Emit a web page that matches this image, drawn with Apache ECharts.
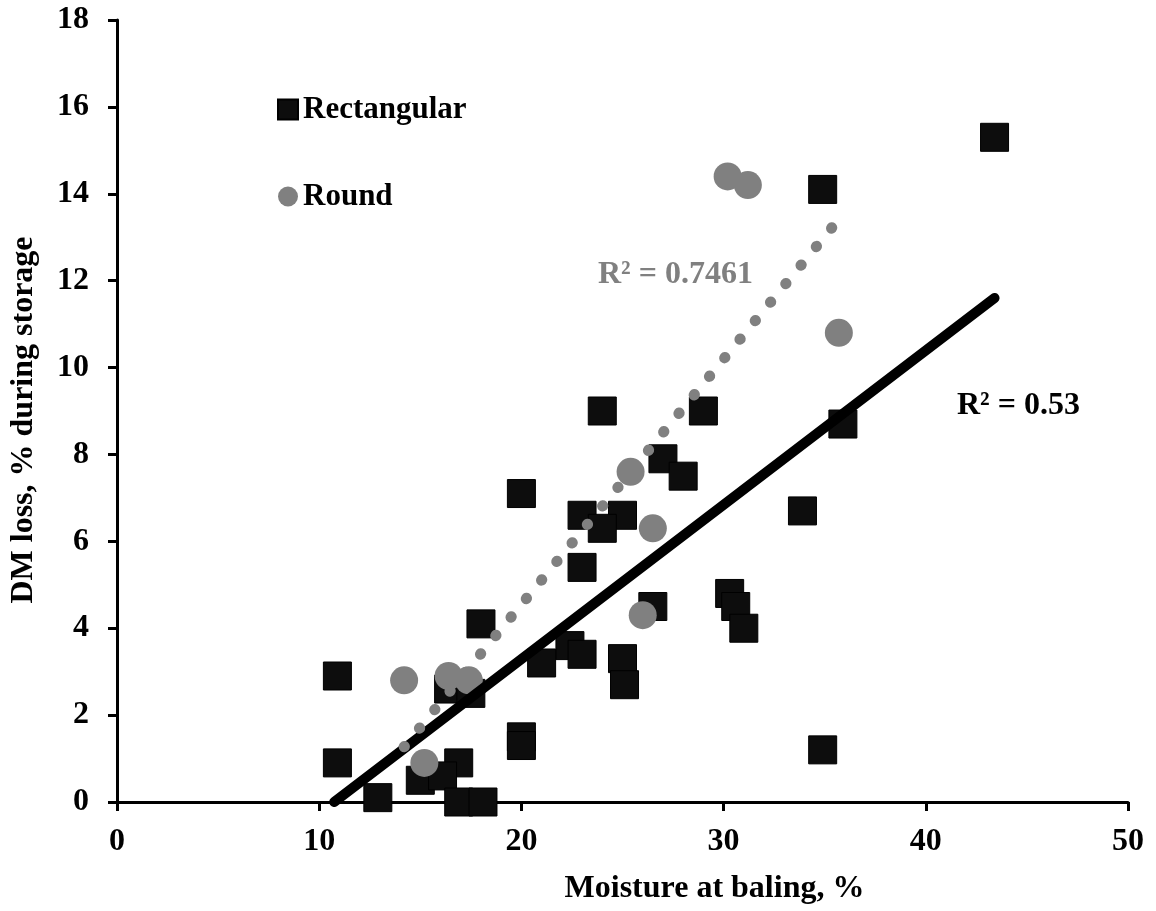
<!DOCTYPE html>
<html>
<head>
<meta charset="utf-8">
<script src="https://cdn.jsdelivr.net/npm/echarts@6/dist/echarts.min.js"></script>
<style>
  html, body { margin: 0; padding: 0; background: #fff; }
  #chart { width: 1156px; height: 911px; }
</style>
</head>
<body>
<div id="chart"></div>
<script>
// rectangular bales: [moisture %, DM loss %]
let rectangular = [
  [24, 9.0], [29, 9.0], [27, 7.9], [28, 7.5], [20, 7.1], [23, 6.6], [25, 6.6],
  [24, 6.3], [23, 5.4], [26.5, 4.5], [30.3, 4.8], [30.6, 4.5], [31, 4.0],
  [18, 4.1], [10.9, 2.9], [22.4, 3.6], [23, 3.4], [21, 3.2], [25, 3.3],
  [25.1, 2.7], [16.4, 2.6], [17.5, 2.5], [20, 1.5], [20, 1.3], [10.9, 0.9],
  [16.9, 0.9], [15, 0.5], [16.1, 0.6], [12.9, 0.1], [16.9, 0], [18.1, 0],
  [34.9, 14.1], [43.4, 15.3], [35.9, 8.7], [33.9, 6.7], [34.9, 1.2]
];
// round bales
let round = [
  [14.2, 2.8], [16.4, 2.9], [17.4, 2.8], [15.2, 0.9], [25.4, 7.6], [26.5, 6.3],
  [26.0, 4.3], [30.2, 14.4], [31.2, 14.2], [35.7, 10.8]
];
// trend line end points
let rectTrend = [[10.74, 0], [43.4, 11.6]];
let roundTrend = [[14.2, 1.27], [35.5, 13.3]];

let font = "'Liberation Serif', 'Times New Roman', serif";

var myChart = echarts.init(document.getElementById("chart"));
let option = {
    animation: false,
    grid: {
        left: 117,
        right: 28,
        top: 20,
        bottom: 109,
    },
    legend: {
        data: ["Rectangular", "Round"],
        orient: "vertical",
        left: 272,
        top: 89,
        itemWidth: 20,
        itemHeight: 20,
        itemGap: 56,
        textStyle: { fontFamily: font, fontWeight: "bold", fontSize: 31, lineHeight: 20, color: "#000" },
    },
    xAxis: {
        type: "value",
        min: 0,
        max: 50,
        interval: 10,
        name: "Moisture at baling, %",
        nameLocation: "middle",
        nameGap: 71,
        nameTextStyle: { fontFamily: font, fontWeight: "bold", fontSize: 32, color: "#000", padding: [0, 0, 0, 184] },
        axisLine: { lineStyle: { color: "#000", width: 3 } },
        axisTick: { length: 9, lineStyle: { color: "#000", width: 3 } },
        axisLabel: { fontFamily: font, fontWeight: "bold", fontSize: 32, color: "#000", margin: 24 },
        splitLine: { show: false },
    },
    yAxis: {
        type: "value",
        min: 0,
        max: 18,
        interval: 2,
        name: "DM loss, % during storage",
        nameLocation: "middle",
        nameGap: 77,
        nameTextStyle: { fontFamily: font, fontWeight: "bold", fontSize: 32, color: "#000", padding: [0, 18, 0, 0] },
        axisLine: { show: true, lineStyle: { color: "#000", width: 3 } },
        axisTick: { show: true, length: 9, lineStyle: { color: "#000", width: 3 } },
        axisLabel: { fontFamily: font, fontWeight: "bold", fontSize: 32, color: "#000", margin: 28 },
        splitLine: { show: false },
    },
    series: [{
        name: "Rectangular",
        type: "scatter",
        symbol: "rect",
        symbolSize: 28,
        data: rectangular,
        z: 2,
        itemStyle: { color: "#0d0d0d", borderColor: "#000", borderWidth: 1, opacity: 1 },
    }, {
        name: "Round",
        type: "scatter",
        symbol: "circle",
        symbolSize: 28,
        data: round,
        z: 3,
        itemStyle: { color: "#808080", opacity: 1 },
    }, {
        type: "line",
        data: rectTrend,
        symbol: "none",
        z: 4,
        lineStyle: { color: "#000", width: 10, cap: "round" },
    }, {
        type: "line",
        data: roundTrend,
        symbol: "none",
        z: 4,
        lineStyle: { color: "#808080", width: 11, type: [0.5, 23.5], cap: "round" },
    }],
    graphic: [{
        type: "text",
        left: 598,
        top: 259,
        style: { text: "R² = 0.7461", fill: "#808080", font: "bold 32px " + font },
    }, {
        type: "text",
        left: 957,
        top: 390,
        style: { text: "R² = 0.53", fill: "#000", font: "bold 32px " + font },
    }],
};
myChart.setOption(option);
</script>
</body>
</html>
